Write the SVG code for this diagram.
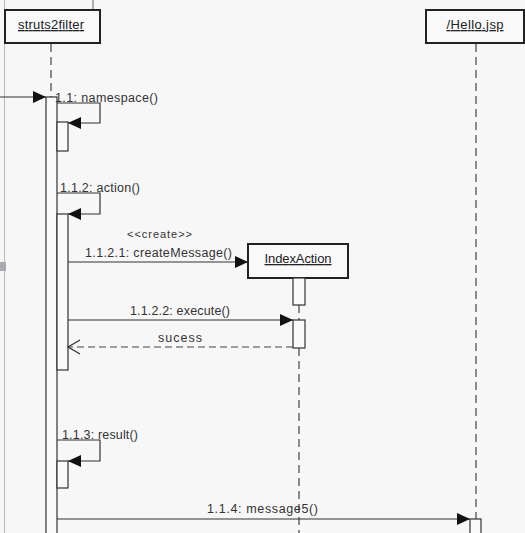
<svg xmlns="http://www.w3.org/2000/svg" width="525" height="533" viewBox="0 0 525 533">
<style>
.bg{fill:#f7f7f7}
.box{fill:#f9f9f9;stroke:#222;stroke-width:2}
.bar{fill:#fafafa;stroke:#333;stroke-width:1.2}
.life{stroke:#444;stroke-width:1.2;stroke-dasharray:8,5;fill:none}
.msg{stroke:#333;stroke-width:1.2;fill:none}
.ret{stroke:#444;stroke-width:1.2;stroke-dasharray:7,4;fill:none}
text{font-family:"Liberation Sans",Arial,sans-serif;font-size:12.5px;fill:#333}
.name{text-anchor:middle;text-decoration:underline;fill:#222;font-size:13px}
.st{font-size:11px}
</style>
<defs>
<marker id="fa" markerWidth="14" markerHeight="12" refX="13" refY="6" orient="auto" markerUnits="userSpaceOnUse">
<path d="M0,0 L13,6 L0,12 Z" fill="#111"/>
</marker>
<marker id="oa" markerWidth="14" markerHeight="16" refX="12" refY="8" orient="auto" markerUnits="userSpaceOnUse">
<path d="M0,1 L12,8 L0,15" fill="none" stroke="#333" stroke-width="1.2"/>
</marker>
</defs>
<rect class="bg" x="0" y="0" width="525" height="533"/>
<line x1="4.5" y1="0" x2="4.5" y2="533" stroke="#bbb" stroke-width="1"/>
<line x1="93" y1="0" x2="93" y2="9" stroke="#666" stroke-width="1"/>
<rect x="0" y="262" width="6" height="9" fill="#a9a9b5"/>

<g id="lifelines">
<line class="life" x1="51" y1="44" x2="51" y2="97"/>
<line class="life" x1="299" y1="305" x2="299" y2="320"/>
<line class="life" x1="299" y1="348" x2="299" y2="533"/>
<line class="life" x1="476" y1="44" x2="476" y2="519"/>
</g>

<g id="struts2filter">
<rect class="box" x="5" y="10" width="95" height="33"/>
<text class="name" x="51" y="29" textLength="66">struts2filter</text>
<rect class="bar" x="46" y="97" width="11" height="440"/>
<rect class="bar" x="57" y="122" width="11" height="29"/>
<rect class="bar" x="57" y="214" width="11" height="156"/>
<rect class="bar" x="57" y="461" width="11" height="27"/>
</g>

<g id="IndexAction">
<rect class="box" x="248" y="244" width="100" height="34"/>
<text class="name" x="298" y="263" textLength="67">IndexAction</text>
<rect class="bar" x="293" y="278" width="12" height="27"/>
<rect class="bar" x="293" y="320" width="12" height="28"/>
</g>

<g id="Hello.jsp">
<rect class="box" x="426" y="10" width="98" height="33"/>
<text class="name" x="475" y="29" textLength="57">/Hello.jsp</text>
<rect class="bar" x="470" y="519" width="11" height="20"/>
</g>

<g id="connectors">
<line class="msg" x1="0" y1="97" x2="46" y2="97" marker-end="url(#fa)"/>
<polyline class="msg" points="57,103 100,103 100,123 68,123" marker-end="url(#fa)"/>
<polyline class="msg" points="57,193 100,193 100,214 68,214" marker-end="url(#fa)"/>
<line class="msg" x1="68" y1="262" x2="248" y2="262" marker-end="url(#fa)"/>
<line class="msg" x1="68" y1="320" x2="293" y2="320" marker-end="url(#fa)"/>
<line class="ret" x1="293" y1="347" x2="68" y2="347" marker-end="url(#oa)"/>
<polyline class="msg" points="57,440 100,440 100,461 68,461" marker-end="url(#fa)"/>
<line class="msg" x1="57" y1="519" x2="470" y2="519" marker-end="url(#fa)"/>
</g>

<g id="labels">
<text x="55" y="102" textLength="103">1.1: namespace()</text>
<text x="60" y="192" textLength="80">1.1.2: action()</text>
<text class="st" x="127" y="238" textLength="65">&lt;&lt;create&gt;&gt;</text>
<text x="85" y="257" textLength="147">1.1.2.1: createMessage()</text>
<text x="130" y="315" textLength="100">1.1.2.2: execute()</text>
<text x="158" y="342" textLength="44">sucess</text>
<text x="62" y="439" textLength="76">1.1.3: result()</text>
<text x="207" y="513" textLength="111">1.1.4: message5()</text>
</g>
</svg>
